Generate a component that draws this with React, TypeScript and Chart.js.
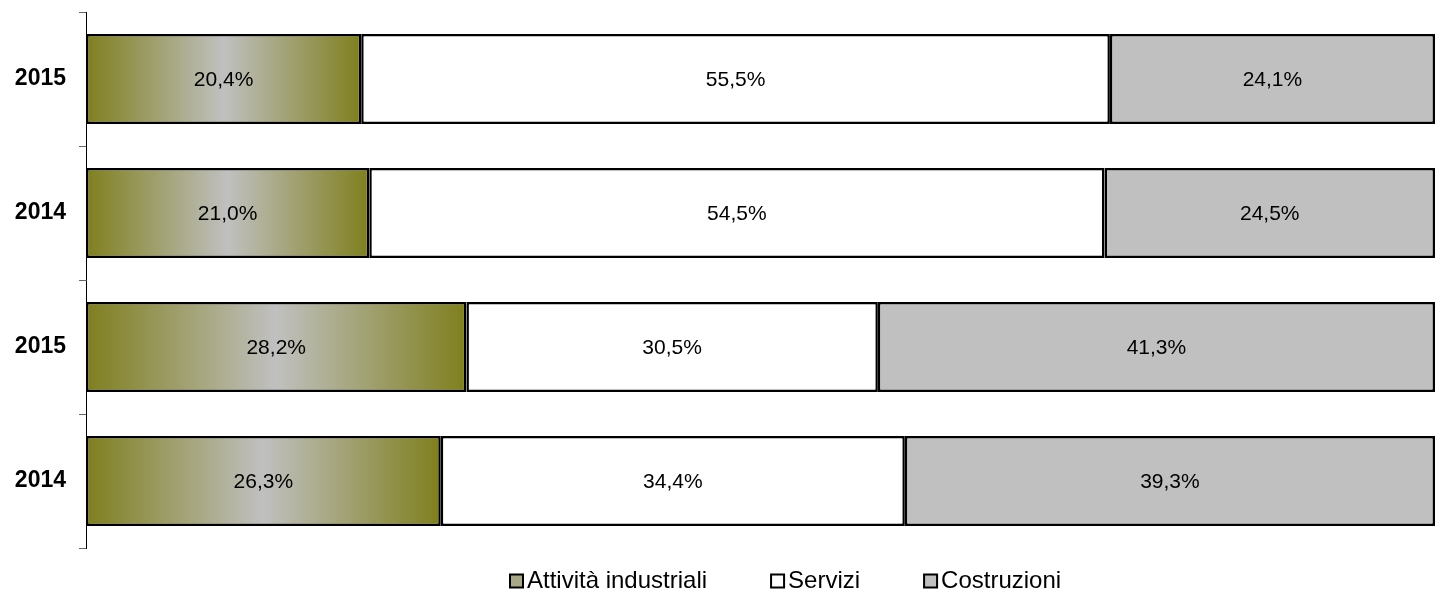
import React, { useEffect, useRef } from "react";
import { Chart, registerables } from "chart.js";

Chart.register(...registerables);

const categories = ["2015", "2014", "2015", "2014"];
const industriali = [20.4, 21.0, 28.2, 26.3];
const servizi = [55.5, 54.5, 30.5, 34.4];
const costruzioni = [24.1, 24.5, 41.3, 39.3];
const seriesNames = ["Attività industriali", "Servizi", "Costruzioni"];

const FONT = "'Liberation Sans', Arial, sans-serif";
const OLIVE = "#7f7f1e";
const SILVER = "#c0c0c0";
const legendFills = ["#a8a888", "#ffffff", SILVER];

const fmt = (v: number) => v.toFixed(1).replace(".", ",") + "%";

const valueLabels = {
  id: "valueLabels",
  afterDatasetsDraw(chart: any) {
    const ctx = chart.ctx;
    ctx.save();
    ctx.font = `21px ${FONT}`;
    ctx.fillStyle = "#000";
    ctx.textAlign = "center";
    ctx.textBaseline = "middle";
    chart.data.datasets.forEach((ds: any, di: number) => {
      const meta = chart.getDatasetMeta(di);
      meta.data.forEach((bar: any, i: number) => {
        const x = (bar.x + bar.base) / 2;
        ctx.fillText(fmt(ds.data[i]), x, bar.y + 1);
      });
    });
    ctx.restore();
  },
};

const customLegend = {
  id: "customLegend",
  afterDraw(chart: any) {
    const ctx = chart.ctx;
    ctx.save();
    ctx.font = `24px ${FONT}`;
    ctx.textBaseline = "middle";
    ctx.textAlign = "left";
    const cy = 581;
    const box = 13;
    let x = 510;
    seriesNames.forEach((name, i) => {
      ctx.fillStyle = legendFills[i];
      ctx.fillRect(x, cy - box / 2, box, box);
      ctx.strokeStyle = "#000";
      ctx.lineWidth = 2;
      ctx.strokeRect(x, cy - box / 2, box, box);
      ctx.fillStyle = "#000";
      const tx = x + box + 4;
      ctx.fillText(name, tx, cy);
      x = tx + ctx.measureText(name).width + 64;
    });
    ctx.restore();
  },
};

function gradientFill(context: any) {
  const chart = context.chart;
  const xs = chart.scales?.x;
  if (!xs || context.dataIndex === undefined) return OLIVE;
  const v = industriali[context.dataIndex];
  const x0 = xs.getPixelForValue(0);
  const x1 = xs.getPixelForValue(v);
  if (!isFinite(x0) || !isFinite(x1) || x1 <= x0) return OLIVE;
  const g = chart.ctx.createLinearGradient(x0, 0, x1, 0);
  g.addColorStop(0, OLIVE);
  g.addColorStop(0.5, SILVER);
  g.addColorStop(1, OLIVE);
  return g;
}

export default function App() {
  const ref = useRef<HTMLCanvasElement>(null);
  useEffect(() => {
    document.body.style.margin = "0";
    const chart = new Chart(ref.current!, {
      type: "bar",
      data: {
        labels: categories,
        datasets: [
          {
            label: seriesNames[0],
            data: industriali,
            backgroundColor: gradientFill as any,
            borderColor: "#000",
            borderWidth: 2.5,
            borderSkipped: false,
          },
          {
            label: seriesNames[1],
            data: servizi,
            backgroundColor: "#ffffff",
            borderColor: "#000",
            borderWidth: 2.5,
            borderSkipped: false,
          },
          {
            label: seriesNames[2],
            data: costruzioni,
            backgroundColor: SILVER,
            borderColor: "#000",
            borderWidth: 2.5,
            borderSkipped: false,
          },
        ],
      },
      options: {
        indexAxis: "y",
        animation: false,
        responsive: false,
        maintainAspectRatio: false,
        datasets: {
          bar: { categoryPercentage: 1, barPercentage: 0.672 },
        },
        layout: { padding: { top: 12, left: 0, right: 0, bottom: 42 } },
        scales: {
          x: {
            stacked: true,
            min: 0,
            max: 100,
            display: false,
          },
          y: {
            stacked: true,
            grid: {
              drawOnChartArea: false,
              drawTicks: true,
              tickLength: 7,
              tickColor: "#666",
              tickWidth: 1,
              offset: true,
            },
            border: { display: true, color: "#000", width: 1 },
            ticks: {
              color: "#000",
              padding: 13,
              font: { family: FONT, size: 23, weight: "bold" },
            },
            afterFit: (scale: any) => {
              scale.width = 86;
              scale.paddingTop = 0;
              scale.paddingBottom = 0;
            },
          },
        },
        plugins: {
          tooltip: { enabled: false },
          legend: { display: false },
        },
      },
      plugins: [valueLabels, customLegend],
    });
    return () => chart.destroy();
  }, []);
  return <canvas ref={ref} width={1435} height={590} style={{ display: "block" }} />;
}
